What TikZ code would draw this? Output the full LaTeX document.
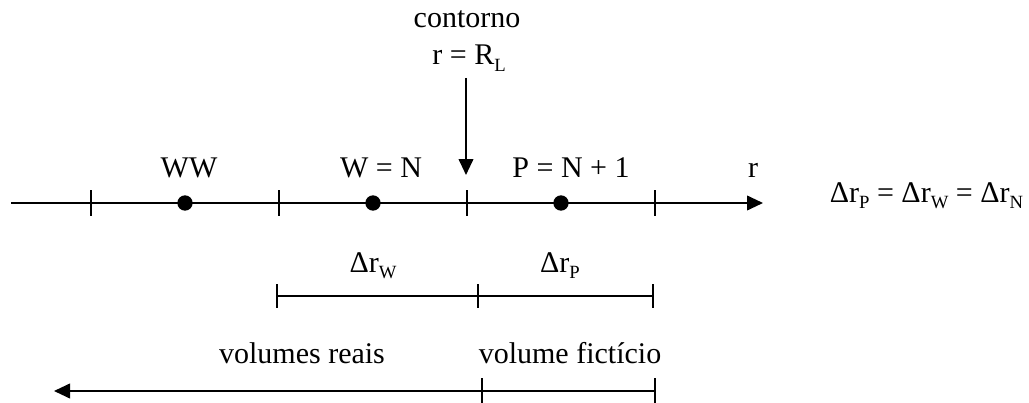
\documentclass[tikz,border=0pt]{standalone}
\usepackage{fontspec}
\setmainfont{Liberation Serif}
\usetikzlibrary{arrows.meta}
\newcommand\sbs[1]{\raisebox{-5pt}{\fontsize{14}{14}\selectfont #1}}
\begin{document}
\begin{tikzpicture}[x=0.75pt,y=-0.75pt, line width=1.4pt,
  lbl/.style={anchor=base, inner sep=0pt, font=\fontsize{22.5}{26}\selectfont},
  tip/.style={-{Triangle[length=12pt,width=11pt]}},
  pt/.style={circle, fill, inner sep=0pt, minimum size=11.5pt},
  tick/.style={line width=1.4pt}]
\useasboundingbox (0,0) rectangle (1029,403);
% main axis
\coordinate (a0) at (11,203);
\coordinate (a1) at (763,203);
\draw[tip] (a0) -- (a1);
\foreach \x in {91,279,467,655} \draw[tick] (\x,190) -- (\x,216);
\node[pt] (ww) at (185,203) {};
\node[pt] (w) at (373,203) {};
\node[pt] (p) at (561,203) {};
\node[lbl] (lww) at (189,177) {WW};
\node[lbl] (lw) at (381,177) {W = N};
\node[lbl] (lp) at (571,177) {P = N + 1};
\node[lbl] (lr) at (753,177) {r};
\node[lbl, anchor=base east] (eq) at (1024,202) {Δr\sbs{P} = Δr\sbs{W} = Δr\sbs{N}};
% boundary
\node[lbl] (cont) at (467,28) {contorno};
\node[lbl] (req) at (469,65) {r = R\sbs{L}};
\coordinate (ds) at (466,78);
\coordinate (de) at (466,175);
\draw[tip] (ds) -- (de);
% brackets
\coordinate (b0) at (277,296);
\coordinate (b1) at (478,296);
\coordinate (b2) at (653,296);
\draw (b0) -- (b2);
\foreach \x in {277,478,653} \draw[tick] (\x,284) -- (\x,308);
\node[lbl] (drw) at (373,272) {Δr\sbs{W}};
\node[lbl] (drp) at (560,272) {Δr\sbs{P}};
% volumes
\coordinate (v0) at (655,391);
\coordinate (v1) at (54,391);
\draw[tip] (v0) -- (v1);
\foreach \x in {482,655} \draw[tick] (\x,378) -- (\x,403);
\node[lbl] (vr) at (302,363) {volumes reais};
\node[lbl] (vf) at (570,363) {volume fictício};
\end{tikzpicture}
\end{document}
